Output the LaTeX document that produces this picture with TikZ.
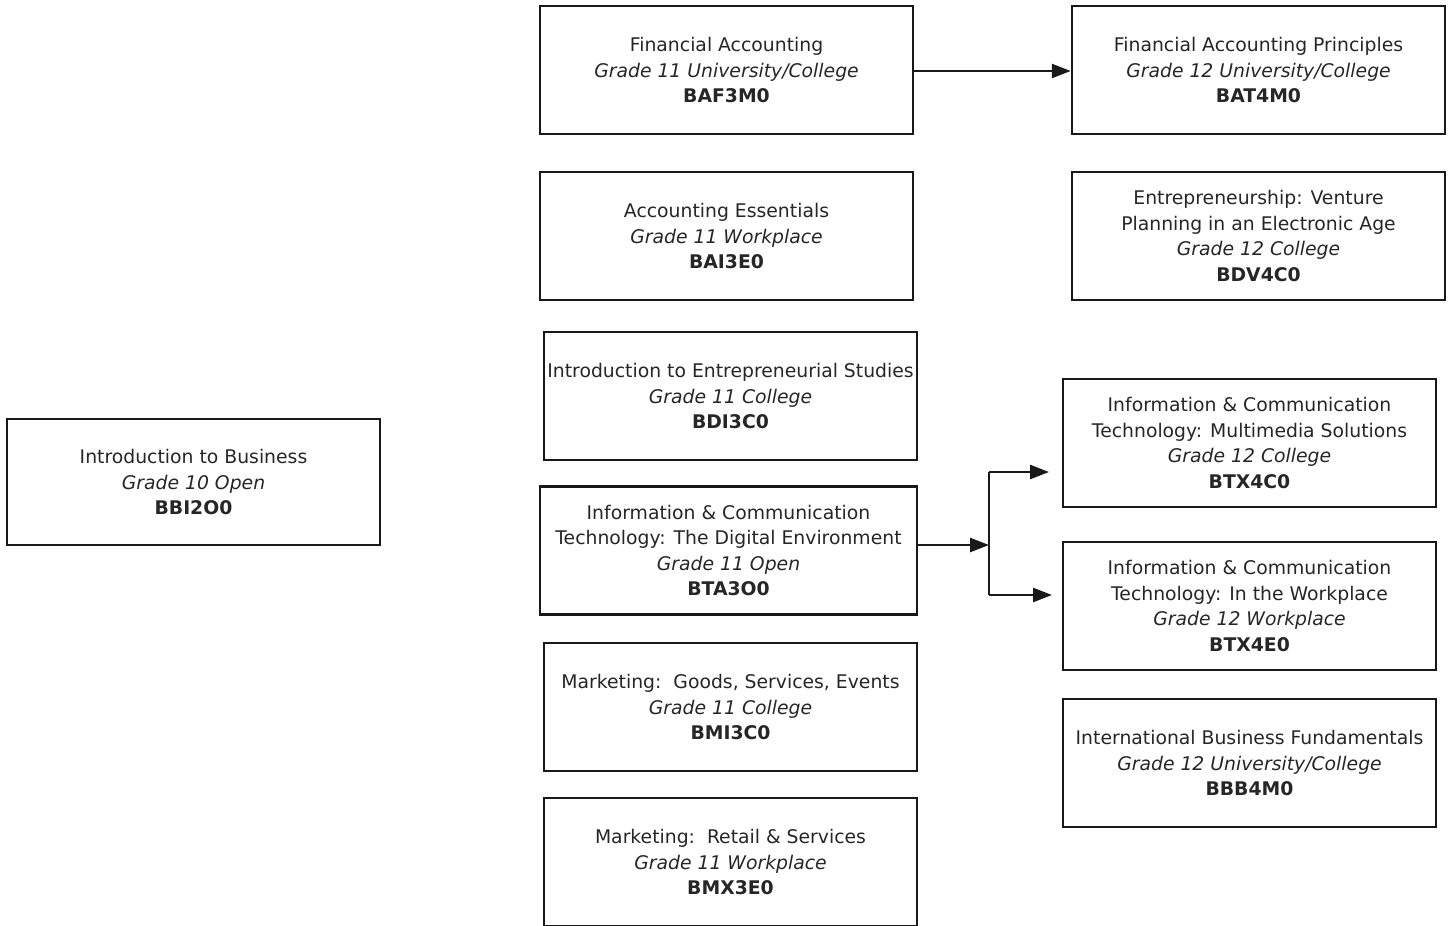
\documentclass[tikz,border=0pt]{standalone}
\usepackage{fontspec}
\setmainfont{DejaVu Sans}
\usetikzlibrary{arrows.meta}
\begin{document}
\begin{tikzpicture}[x=1pt,y=-1pt,
  course/.style={draw=black!90,line width=2.5pt,minimum width=373pt,minimum height=128pt,align=center,inner sep=0pt,text=black!85,font=\fontsize{18.8}{25.5}\selectfont},
  arr/.style={line width=2.5pt,draw=black!90,-{Triangle[length=19pt,width=14pt]}},
  conn/.style={line width=2.5pt,draw=black!90}]
\useasboundingbox (0,0) rectangle (1449,926);
\node[course] (baf) at (726.5,70) {Financial Accounting\\\textit{Grade 11 University/College}\\\textbf{BAF3M0}};
\node[course] (bat) at (1258.5,70) {Financial Accounting Principles\\\textit{Grade 12 University/College}\\\textbf{BAT4M0}};
\node[course] (bai) at (726.5,236) {Accounting Essentials\\\textit{Grade 11 Workplace}\\\textbf{BAI3E0}};
\node[course] (bdv) at (1258.5,236) {Entrepreneurship: Venture\\Planning in an Electronic Age\\\textit{Grade 12 College}\\\textbf{BDV4C0}};
\node[course] (bdi) at (730.5,396) {Introduction to Entrepreneurial Studies\\\textit{Grade 11 College}\\\textbf{BDI3C0}};
\node[course,minimum width=377pt] (bta) at (728.5,550.5) {Information \& Communication\\Technology: The Digital Environment\\\textit{Grade 11 Open}\\\textbf{BTA3O0}};
\node[course] (bmi) at (730.5,707) {Marketing:\ \ Goods, Services, Events\\\textit{Grade 11 College}\\\textbf{BMI3C0}};
\node[course] (bmx) at (730.5,862) {Marketing:\ \ Retail \& Services\\\textit{Grade 11 Workplace}\\\textbf{BMX3E0}};
\node[course,minimum height=126pt] (bbi) at (193.5,482) {Introduction to Business\\\textit{Grade 10 Open}\\\textbf{BBI2O0}};
\node[course] (btxc) at (1249.5,443) {Information \& Communication\\Technology: Multimedia Solutions\\\textit{Grade 12 College}\\\textbf{BTX4C0}};
\node[course] (btxe) at (1249.5,606) {Information \& Communication\\Technology: In the Workplace\\\textit{Grade 12 Workplace}\\\textbf{BTX4E0}};
\node[course] (bbb) at (1249.5,763) {International Business Fundamentals\\\textit{Grade 12 University/College}\\\textbf{BBB4M0}};
\draw[arr] (baf.east |- 0,71) -- (bat.west |- 0,71);
\coordinate (j) at (989,545);
\coordinate (jt) at (989,472);
\coordinate (jb) at (989,595);
\coordinate (tt) at (1049,472);
\coordinate (tb) at (1052,595);
\draw[arr] (bta.east |- j) -- (j);
\draw[conn] (jt) -- (jb);
\draw[arr] (jt) -- (tt);
\draw[arr] (jb) -- (tb);
\end{tikzpicture}
\end{document}
